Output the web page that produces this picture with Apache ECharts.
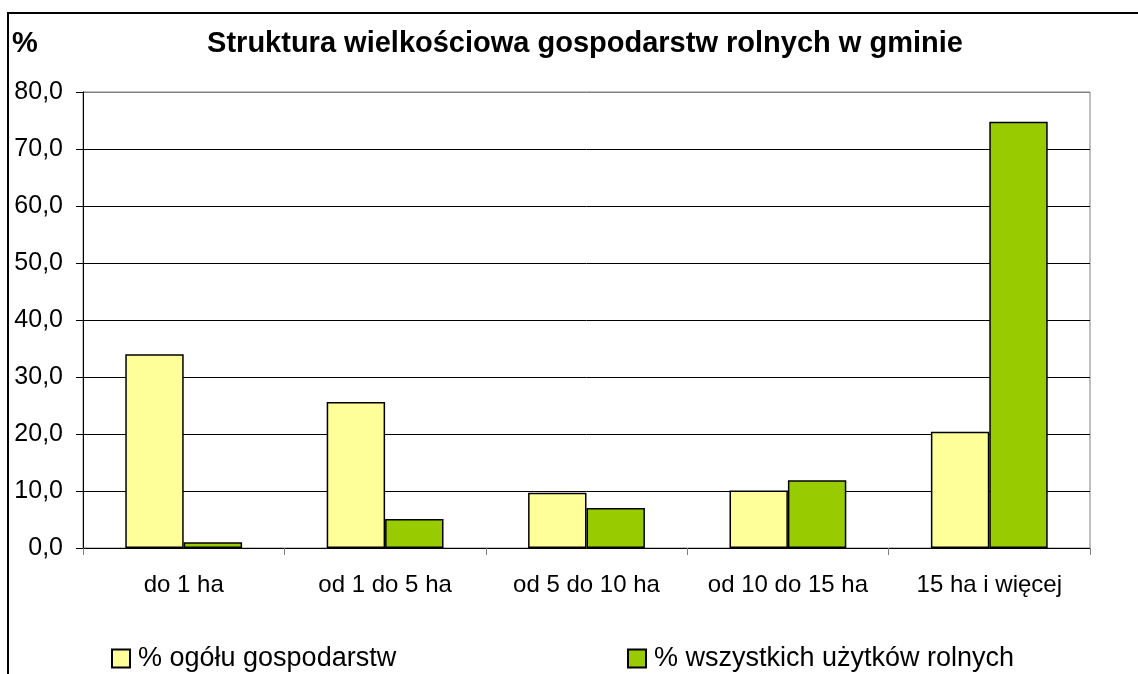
<!DOCTYPE html>
<html>
<head>
<meta charset="utf-8">
<script src="https://cdn.jsdelivr.net/npm/echarts@6/dist/echarts.min.js"></script>
<style>
html,body{margin:0;padding:0;background:#fff;}
#chart{width:1138px;height:674px;}
</style>
</head>
<body>
<div id="chart"></div>
<script>
var categories = ['do 1 ha', 'od 1 do 5 ha', 'od 5 do 10 ha', 'od 10 do 15 ha', '15 ha i więcej'];
var farmsShare = [34.0, 25.6, 9.7, 10.1, 20.4];
var landShare = [1.0, 5.1, 7.0, 11.9, 74.8];
var seriesNames = ['% ogółu gospodarstw', '% wszystkich użytków rolnych'];
var chartTitle = 'Struktura wielkościowa gospodarstw rolnych w gminie';
var yUnit = '%';

var FONT = '"Liberation Sans", Arial, sans-serif';
var chart = echarts.init(document.getElementById('chart'));
chart.setOption({
  animation: false,
  backgroundColor: '#fff',
  textStyle: { fontFamily: FONT },
  graphic: [
    { type: 'polyline', shape: { points: [[8, 674], [8, 13], [1138, 13]] },
      style: { stroke: '#000', lineWidth: 2, fill: null } },
    { type: 'text', x: 585, y: 44,
      style: { text: chartTitle, font: 'bold 29px ' + FONT, fill: '#000', align: 'center', verticalAlign: 'middle' } },
    { type: 'text', x: 12, y: 44,
      style: { text: yUnit, font: 'bold 29px ' + FONT, fill: '#000', align: 'left', verticalAlign: 'middle' } }
  ],
  grid: { left: 83, right: 48, top: 92, bottom: 126, show: true, borderColor: '#808080', borderWidth: 1 },
  legend: [
    { data: [seriesNames[0]], left: 106, top: 640, itemWidth: 18, itemHeight: 18, icon: 'rect',
      textStyle: { fontSize: 27, color: '#000', fontFamily: FONT, padding: [0, 0, 0, 3] } },
    { data: [seriesNames[1]], left: 622, top: 640, itemWidth: 18, itemHeight: 18, icon: 'rect',
      textStyle: { fontSize: 27, color: '#000', fontFamily: FONT, padding: [0, 0, 0, 3] } }
  ],
  xAxis: {
    type: 'category',
    data: categories,
    axisLine: { lineStyle: { color: '#000', width: 1 } },
    axisTick: { show: true, alignWithLabel: false, interval: 0, length: 7, lineStyle: { color: '#808080' } },
    axisLabel: { fontSize: 24, color: '#000', margin: 25, fontFamily: FONT, interval: 0, hideOverlap: false }
  },
  yAxis: {
    type: 'value',
    min: 0, max: 80, interval: 10,
    axisLine: { show: true, lineStyle: { color: '#000', width: 1 } },
    axisTick: { show: true, length: 7, lineStyle: { color: '#000' } },
    axisLabel: { fontSize: 25, color: '#000', margin: 20, fontFamily: FONT,
      formatter: function (v) { return v.toFixed(1).replace('.', ','); } },
    splitLine: { show: true, lineStyle: { color: ['#000','#000','#000','#000','#000','#000','#000','#000','#808080'], width: 1 } }
  },
  series: [
    { name: seriesNames[0], type: 'bar', data: farmsShare, barGap: '0%', barCategoryGap: '42%',
      itemStyle: { color: '#FFFF99', borderColor: '#000', borderWidth: 1.5 } },
    { name: seriesNames[1], type: 'bar', data: landShare, barGap: '0%', barCategoryGap: '42%',
      itemStyle: { color: '#99CC00', borderColor: '#000', borderWidth: 1.5 } }
  ]
});
</script>
</body>
</html>
